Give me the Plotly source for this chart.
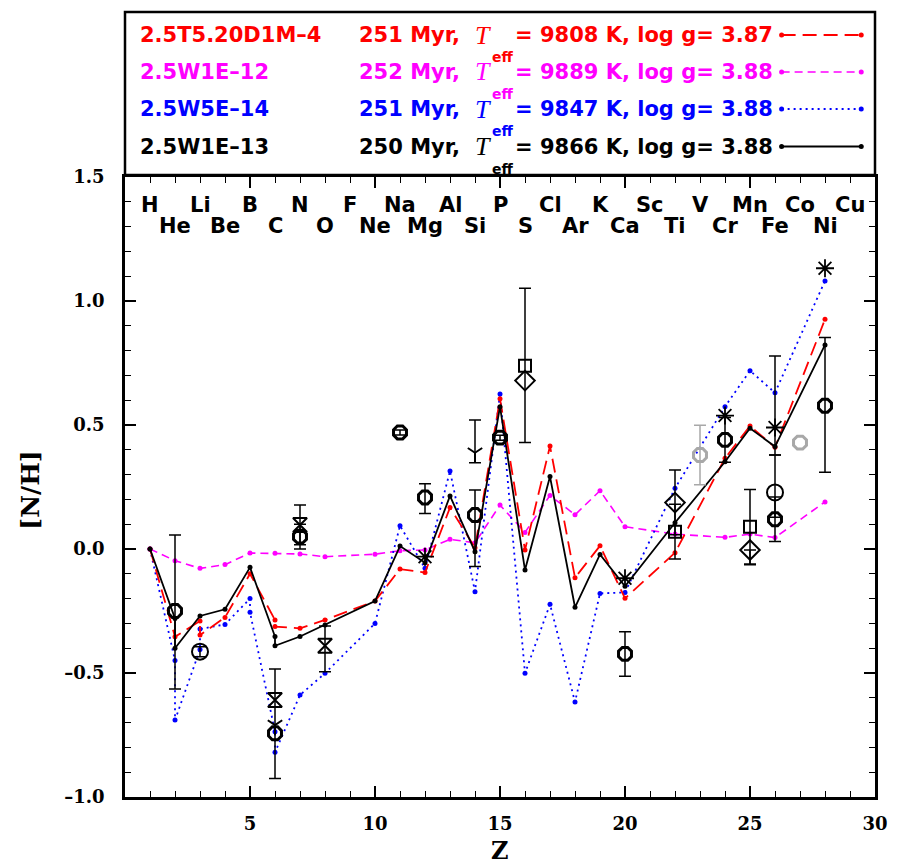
import plotly.graph_objects as go

# ---------------- data ----------------
elements = ["H", "He", "Li", "Be", "B", "C", "N", "O", "F", "Ne", "Na", "Mg", "Al", "Si", "P",
            "S", "Cl", "Ar", "K", "Ca", "Sc", "Ti", "V", "Cr", "Mn", "Fe", "Co", "Ni", "Cu"]

Z_black = [1, 2, 2, 3, 4, 5, 6, 6, 7, 8, 10, 11, 12, 13, 14, 15, 16, 17, 18, 19, 20, 22, 24, 25, 26, 28]
NH_black = [0, -0.28, -0.40, -0.27, -0.243, -0.074, -0.353, -0.39, -0.353, -0.306, -0.21, 0.012, -0.055,
            0.214, -0.011, 0.574, -0.085, 0.292, -0.235, -0.022, -0.15, 0.106, 0.352, 0.487, 0.413, 0.823]

Z_red = [1, 2, 3, 3, 4, 5, 6, 6, 7, 8, 10, 11, 12, 13, 14, 15, 16, 17, 18, 19, 20, 22, 24, 25, 26, 28]
NH_red = [0, -0.354, -0.29, -0.347, -0.276, -0.10, -0.286, -0.313, -0.32, -0.286, -0.21, -0.081, -0.095,
          0.167, 0.005, 0.606, -0.004, 0.415, -0.116, 0.013, -0.199, -0.015, 0.366, 0.496, 0.41, 0.926]

Z_blue = [1, 2, 2, 3, 3, 4, 5, 5, 6, 6, 7, 8, 10, 11, 12, 13, 14, 15, 16, 17, 18, 19, 20, 22, 24, 25, 26, 28]
NH_blue = [0, -0.45, -0.69, -0.405, -0.323, -0.304, -0.2, -0.255, -0.737, -0.82, -0.589, -0.501, -0.30,
           0.094, -0.078, 0.315, -0.172, 0.625, -0.501, -0.223, -0.617, -0.179, -0.175, 0.245, 0.574,
           0.719, 0.63, 1.081]

Z_mag = [1, 2, 3, 4, 5, 6, 7, 8, 10, 11, 12, 13, 14, 15, 16, 17, 18, 19, 20, 22, 24, 25, 26, 28]
NH_mag = [0, -0.047, -0.078, -0.063, -0.016, -0.017, -0.02, -0.031, -0.021, -0.007, -0.004, 0.039,
          0.025, 0.177, 0.067, 0.216, 0.138, 0.235, 0.09, 0.06, 0.047, 0.06, 0.046, 0.19]

# observations (None = no error bar)
oct_Z = [2, 6, 7, 11, 12, 14, 15, 20, 24, 26, 28]
oct_NH = [-0.25, -0.743, 0.05, 0.47, 0.208, 0.137, 0.449, -0.423, 0.44, 0.12, 0.578]
oct_ep = [0.306, 0.259, 0.05, 0.01, 0.055, 0.101, 0.01, 0.089, 0.09, 0.09, 0.275]
oct_em = [0.315, 0.182, 0.05, 0.01, 0.065, 0.208, 0.01, 0.09, 0.09, 0.09, 0.269]

gray_Z = [23, 27]
gray_NH = [0.379, 0.429]
gray_ep = [0.12, None]
gray_em = [0.12, None]

hour_Z = [6, 7, 8]
hour_NH = [-0.609, 0.097, -0.39]
hour_ep = [None, 0.08, 0.08]
hour_em = [None, 0.08, 0.105]

ydn_Z = [6, 14]
ydn_NH = [-0.71, 0.388]
ydn_ep = [None, 0.132]
ydn_em = [None, 0.04]

ast_Z = [12, 20, 24, 26, 28]
ast_NH = [-0.031, -0.118, 0.538, 0.49, 1.132]
ast_ep = [None, None, None, 0.288, None]
ast_em = [None, None, None, 0.111, None]

sq_Z = [16, 22, 25]
sq_NH = [0.739, 0.07, 0.09]
sq_ep = [0.312, 0.11, 0.15]
sq_em = [0.31, 0.11, 0.15]

dia_Z = [16, 22, 25]
dia_NH = [0.679, 0.187, -0.004]
dia_ep = [None, 0.132, 0.0]
dia_em = [None, 0.13, 0.06]

circ_Z = [3, 26]
circ_NH = [-0.414, 0.228]
circ_ep = [0.02, 0.151]
circ_em = [0.02, 0.10]

models = [
    ("2.5T5.20D1M–4", "251 Myr,", "= 9808 K, log g= 3.87", "#ff0000", "14px,7px", 1.8),
    ("2.5W1E–12", "252 Myr,", "= 9889 K, log g= 3.88", "#ff00ff", "8px,5px", 1.6),
    ("2.5W5E–14", "251 Myr,", "= 9847 K, log g= 3.88", "#0000ff", "2px,4px", 1.8),
    ("2.5W1E–13", "250 Myr,", "= 9866 K, log g= 3.88", "#000000", "solid", 1.8),
]

# ---------------- figure ----------------
W, H = 900, 867
L, R, T, B = 125, 12, 177, 70
pw, ph = W - L - R, H - T - B


def px(x):
    return (x - L) / pw


def py(y):
    return (H - B - y) / ph


fig = go.Figure()

series = [(Z_mag, NH_mag, 1), (Z_blue, NH_blue, 2), (Z_red, NH_red, 0), (Z_black, NH_black, 3)]
for zs, vs, idx in series:
    name, age, rest, col, dash, lw = models[idx]
    fig.add_trace(go.Scatter(x=zs, y=vs, mode="lines+markers",
                             line=dict(color=col, width=lw, dash=dash),
                             marker=dict(color=col, size=5), showlegend=False))


def obs(zs, vs, ep, em, symbol, size, lw, color="black"):
    mk = dict(symbol=symbol, size=size, color=color, line=dict(color=color, width=lw))
    with_err = [i for i in range(len(zs)) if ep[i] is not None]
    no_err = [i for i in range(len(zs)) if ep[i] is None]
    if with_err:
        fig.add_trace(go.Scatter(
            x=[zs[i] for i in with_err], y=[vs[i] for i in with_err], mode="markers", marker=mk,
            error_y=dict(type="data", symmetric=False,
                         array=[ep[i] for i in with_err], arrayminus=[em[i] for i in with_err],
                         color=color, thickness=1.5, width=6),
            showlegend=False))
    if no_err:
        fig.add_trace(go.Scatter(
            x=[zs[i] for i in no_err], y=[vs[i] for i in no_err], mode="markers", marker=mk,
            showlegend=False))


obs(hour_Z, hour_NH, hour_ep, hour_em, "hourglass-open", 14, 2)
obs(ydn_Z, ydn_NH, ydn_ep, ydn_em, "y-down-open", 12, 2)
obs(sq_Z, sq_NH, sq_ep, sq_em, "square-open", 12, 2)
obs(dia_Z, dia_NH, dia_ep, dia_em, "diamond-open", 15, 2)
obs(circ_Z, circ_NH, circ_ep, circ_em, "circle-open", 16, 2)
obs(gray_Z, gray_NH, gray_ep, gray_em, "octagon-open", 14, 3, color="#a8a8a8")
obs(oct_Z, oct_NH, oct_ep, oct_em, "octagon-open", 14, 3)
obs(ast_Z, ast_NH, ast_ep, ast_em, "asterisk-open", 15, 1.8)

annotations = []
# element labels
for i, el in enumerate(elements):
    z = i + 1
    yv = 1.389 if z % 2 == 1 else 1.304
    annotations.append(dict(x=z, y=yv, xref="x", yref="y", text=el, showarrow=False,
                            font=dict(family="DejaVu Sans", size=21, color="black", weight="bold"),
                            xanchor="center", yanchor="middle"))

# legend box
shapes = [dict(type="rect", xref="paper", yref="paper", x0=0, x1=1, y0=py(175), y1=py(12),
               line=dict(color="black", width=2.5), fillcolor="white", layer="below")]
row_y = [35, 72, 109, 146.5]
for (name, age, rest, col, dash, lw), ry in zip(models, row_y):
    f = dict(family="DejaVu Sans", size=21, color=col, weight="bold")
    annotations.append(dict(x=px(138), y=py(ry), xref="paper", yref="paper", text=name,
                            showarrow=False, font=f, xanchor="left", yanchor="middle"))
    annotations.append(dict(x=px(361), y=py(ry), xref="paper", yref="paper", text=age,
                            showarrow=False, font=f, xanchor="left", yanchor="middle"))
    annotations.append(dict(x=px(479), y=py(ry), xref="paper", yref="paper", text="<i>T</i>",
                            showarrow=False,
                            font=dict(family="Liberation Serif", size=26, color=col),
                            xanchor="left", yanchor="middle"))
    annotations.append(dict(x=px(496), y=py(ry + 22), xref="paper", yref="paper", text="eff",
                            showarrow=False,
                            font=dict(family="DejaVu Sans", size=14, color=col, weight="bold"),
                            xanchor="left", yanchor="middle"))
    annotations.append(dict(x=px(520), y=py(ry), xref="paper", yref="paper", text=rest,
                            showarrow=False, font=f, xanchor="left", yanchor="middle"))
    shapes.append(dict(type="line", xref="paper", yref="paper", x0=px(793), x1=px(874),
                       y0=py(ry), y1=py(ry), line=dict(color=col, width=lw, dash=dash)))
    for xx in (793, 874):
        shapes.append(dict(type="circle", xref="paper", yref="paper", xsizemode="pixel",
                           ysizemode="pixel", xanchor=px(xx), yanchor=py(ry),
                           x0=-2.5, x1=2.5, y0=-2.5, y1=2.5,
                           fillcolor=col, line=dict(color=col, width=0)))

# axis titles
annotations.append(dict(x=px(506), y=py(866), xref="paper", yref="paper", text="Z",
                        showarrow=False, borderpad=0,
                        font=dict(family="DejaVu Serif", size=24, color="black", weight="bold"),
                        xanchor="center", yanchor="bottom"))
annotations.append(dict(x=px(28), y=py(490), xref="paper", yref="paper", text="[N/H]",
                        showarrow=False, textangle=-90,
                        font=dict(family="DejaVu Serif", size=25, color="black", weight="bold"),
                        xanchor="center", yanchor="middle"))

tickfont = dict(family="DejaVu Serif", size=18, color="black", weight="bold")
fig.update_layout(
    width=W, height=H,
    margin=dict(l=L, r=R, t=T, b=B),
    paper_bgcolor="white", plot_bgcolor="white",
    showlegend=False,
    annotations=annotations, shapes=shapes,
    xaxis=dict(range=[0, 30], tickvals=[5, 10, 15, 20, 25, 30],
               ticktext=["5", "10", "15", "20", "25", "30"],
               ticks="inside", ticklen=11, tickwidth=1.5, tickcolor="black",
               minor=dict(tickvals=list(range(1, 30)), ticks="inside", ticklen=6,
                          tickwidth=1, tickcolor="black"),
               showline=True, linewidth=2.5, linecolor="black", mirror="allticks",
               showgrid=False, zeroline=False, tickfont=tickfont, ticklabelstandoff=9),
    yaxis=dict(range=[-1.0, 1.5], tickvals=[-1.0, -0.5, 0.0, 0.5, 1.0, 1.5],
               ticktext=["–1.0", "–0.5", "0.0", "0.5", "1.0", "1.5"],
               ticks="inside", ticklen=11, tickwidth=1.5, tickcolor="black",
               minor=dict(dtick=0.1, ticks="inside", ticklen=6, tickwidth=1, tickcolor="black"),
               showline=True, linewidth=2.5, linecolor="black", mirror="allticks",
               showgrid=False, zeroline=False, tickfont=tickfont, ticklabelstandoff=14),
)

fig.write_html("out.html")
